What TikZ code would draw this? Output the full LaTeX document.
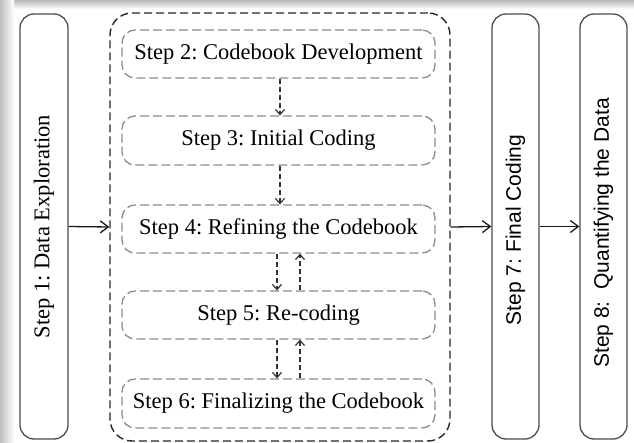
\documentclass[tikz,border=0pt]{standalone}
\usepackage{fontspec}
\setmainfont{Liberation Serif}
\newfontfamily\arialish{Liberation Sans}
\usetikzlibrary{arrows.meta}
\frenchspacing
\begin{document}
\begin{tikzpicture}[x=1pt,y=-1pt,
  solidbox/.style={draw=black!70,line width=1.3pt,rounded corners=14pt,inner sep=0pt},
  outerbox/.style={draw=black!85,line width=1.4pt,dash pattern=on 8pt off 4pt,rounded corners=22pt},
  innerbox/.style={draw=black!45,line width=1.3pt,dash pattern=on 9pt off 4pt,rounded corners=13pt,font=\fontsize{22.5}{26}\selectfont,text=black},
  mainarrow/.style={draw=black!90,line width=1.3pt,-{Straight Barb[length=8pt,width=12pt,line width=1.3pt]}},
  dasharrow/.style={draw=black!80,line width=1.2pt,dash pattern=on 5pt off 3pt,-{Straight Barb[length=5pt,width=9pt,line width=1.2pt]}},
  vtext/.style={rotate=90,text=black}
]
\useasboundingbox (0,0) rectangle (634,443);
% frame shadow
\shade[top color=black!28,bottom color=white] (0,0) rectangle (634,9);
\shade[left color=black!25,right color=white] (0,0) rectangle (14,443);
% step 1
\node[solidbox,minimum width=48pt,minimum height=425pt] (s1) at (44,226.5) {};
\node[vtext,font=\fontsize{22.5}{26}\selectfont] (t1) at (s1.center) {Step 1: Data Exploration};
% outer dashed group
\node[outerbox,minimum width=340pt,minimum height=428pt] (outer) at (280,227) {};
% inner steps
\node[innerbox,minimum width=313pt,minimum height=48pt] (s2) at (278.5,54) {Step 2: Codebook Development};
\node[innerbox,minimum width=313pt,minimum height=49pt] (s3) at (278.5,140.5) {Step 3: Initial Coding};
\node[innerbox,minimum width=313pt,minimum height=48pt] (s4) at (278.5,229) {Step 4: Refining the Codebook};
\node[innerbox,minimum width=313pt,minimum height=48pt] (s5) at (278.5,315) {Step 5: Re-coding};
\node[innerbox,minimum width=313pt,minimum height=49pt] (s6) at (278.5,403.5) {Step 6: Finalizing the Codebook};
% step 7, 8
\node[solidbox,minimum width=47pt,minimum height=425pt] (s7) at (515.5,226.5) {};
\node[vtext,font=\arialish\fontsize{21}{25}\selectfont] (t7) at (515.5,230) {Step 7: Final Coding};
\node[solidbox,minimum width=47pt,minimum height=425pt] (s8) at (603.5,226.5) {};
\node[vtext,font=\arialish\fontsize{21}{25}\selectfont] (t8) at (603.5,233) {Step 8:\ \ Quantifying the Data};
% main arrows
\draw[mainarrow] (s1.east) -- (outer.west);
\draw[mainarrow] (outer.east) -- (s7.west);
\draw[mainarrow] (s7.east) -- (s8.west);
% dashed arrows
\draw[dasharrow] ([xshift=1.5pt]s2.south) -- ([xshift=1.5pt]s3.north);
\draw[dasharrow] ([xshift=1.5pt]s3.south) -- ([xshift=1.5pt]s4.north);
\draw[dasharrow] ([xshift=-1.5pt]s4.south) -- ([xshift=-1.5pt]s5.north);
\draw[dasharrow] ([xshift=21.5pt]s5.north) -- ([xshift=21.5pt]s4.south);
\draw[dasharrow] ([xshift=-1.5pt]s5.south) -- ([xshift=-1.5pt]s6.north);
\draw[dasharrow] ([xshift=21.5pt]s6.north) -- ([xshift=21.5pt]s5.south);
\end{tikzpicture}
\end{document}
